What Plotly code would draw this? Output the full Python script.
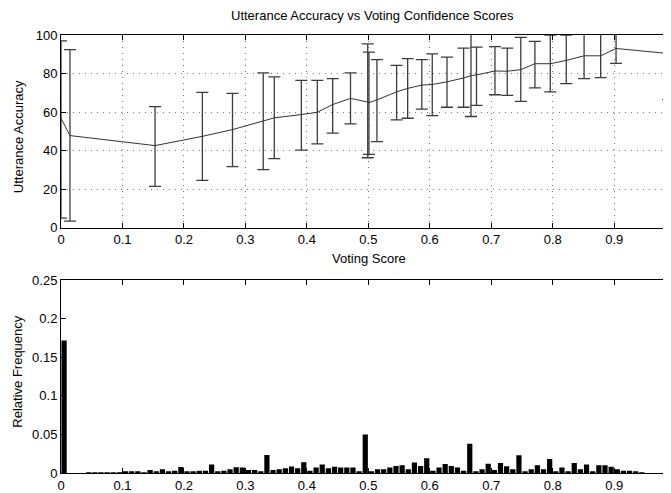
import numpy as np
import plotly.graph_objects as go

# Utterance accuracy per voting score (line + error bars)
acc_score = [0, 0.0146, 0.153, 0.230, 0.279, 0.329, 0.347, 0.391, 0.417, 0.442,
             0.471, 0.499, 0.501, 0.514, 0.546, 0.564, 0.587, 0.604, 0.628, 0.655,
             0.667, 0.676, 0.706, 0.726, 0.748, 0.771, 0.796, 0.822, 0.851, 0.878,
             0.903, 0.988]
acc_mean = [56.8, 47.8, 42.6, 47.4, 50.9, 55.1, 57.0, 58.7, 59.9, 63.9,
            67.1, 65.2, 64.9, 66.3, 70.5, 72.3, 74.0, 74.3, 75.7, 77.7,
            78.9, 79.3, 81.3, 81.2, 82.0, 85.1, 85.1, 86.8, 89.2, 89.2,
            93.0, 90.4]
acc_upper = [97.0, 92.4, 62.8, 70.2, 69.7, 80.3, 78.3, 76.5, 76.5, 77.4,
             80.3, 95.4, 91.1, 87.2, 84.2, 87.7, 87.2, 90.2, 88.5, 93.2,
             104, 93.7, 94.0, 93.2, 98.8, 96.7, 100.0, 100.0, 104, 104,
             104, 104]
acc_lower = [5.0, 3.4, 21.4, 24.5, 31.7, 30.1, 35.8, 40.2, 43.5, 49.1,
             53.9, 36.3, 38.0, 44.7, 56.0, 56.8, 61.5, 58.2, 62.5, 62.5,
             57.7, 63.5, 69.0, 68.7, 65.6, 72.6, 70.5, 74.8, 77.4, 77.9,
             85.3, 66.5]

# Relative frequency histogram, 100 bins of width 0.01
freq = [0.172, 0, 0, 0, 0.0005, 0.0005, 0.0005, 0.0005, 0.0005, 0.0005,
        0.0015, 0.002, 0.002, 0.0005, 0.004, 0.002, 0.005, 0.002, 0.003, 0.0078,
        0.002, 0.001, 0.003, 0.003, 0.011, 0.001, 0.003, 0.005, 0.0075, 0.007,
        0.004, 0.004, 0.002, 0.0235, 0.004, 0.005, 0.006, 0.0085, 0.006, 0.014,
        0.003, 0.007, 0.011, 0.006, 0.008, 0.007, 0.007, 0.007, 0.002, 0.050,
        0.001, 0.005, 0.005, 0.007, 0.009, 0.010, 0.005, 0.0137, 0.009, 0.019,
        0.003, 0.007, 0.0116, 0.009, 0.007, 0.003, 0.038, 0.002, 0.005, 0.012,
        0.004, 0.013, 0.0086, 0.005, 0.023, 0.001, 0.005, 0.010, 0.005, 0.018,
        0.002, 0.007, 0.002, 0.013, 0.005, 0.011, 0.001, 0.010, 0.010, 0.008,
        0.005, 0.003, 0.003, 0.001, 0.0005, 0, 0, 0, 0, 0.2375]
bin_centers = np.round(np.arange(len(freq)) * 0.01 + 0.005, 3)

x_ticks = [0, 0.1, 0.2, 0.3, 0.4, 0.5, 0.6, 0.7, 0.8, 0.9]
acc_ticks = [0, 20, 40, 60, 80, 100]
freq_ticks = [0, 0.05, 0.1, 0.15, 0.2, 0.25]

font = dict(family="Liberation Sans, Arial, sans-serif", size=13, color="black")

err_hi = [u - m for u, m in zip(acc_upper, acc_mean)]
err_lo = [m - l for m, l in zip(acc_mean, acc_lower)]

fig = go.Figure()

fig.add_trace(go.Scatter(
    x=acc_score, y=acc_mean, mode="lines",
    line=dict(color="#333333", width=1),
    error_y=dict(type="data", symmetric=False, array=err_hi, arrayminus=err_lo,
                 color="#3c3c3c", thickness=1.3, width=6),
    xaxis="x", yaxis="y", showlegend=False,
))

fig.add_trace(go.Bar(
    x=bin_centers, y=freq, width=0.0085,
    marker=dict(color="black", line=dict(width=0)),
    xaxis="x2", yaxis="y2", showlegend=False,
))

axis_common = dict(
    showline=True, linecolor="black", linewidth=1,
    ticks="inside", ticklen=5, tickcolor="black",
    tickfont=font, zeroline=False,
)

# the page body has an 8px margin, so the figure is 8px smaller each way
fig.update_layout(
    width=663, height=485,
    margin=dict(l=53, r=0, t=27, b=17),
    paper_bgcolor="white", plot_bgcolor="white",
    font=font,
    xaxis=dict(domain=[0, 1], range=[0, 0.9924], tickvals=x_ticks,
               mirror="ticks", showgrid=True, gridcolor="#7a7a7a",
               griddash="1px,5px", gridwidth=1, anchor="y", **axis_common),
    yaxis=dict(domain=[0.5601, 1], range=[0, 100], tickvals=acc_ticks,
               showgrid=True, gridcolor="#7a7a7a", griddash="1px,5px",
               gridwidth=1, anchor="x", **axis_common),
    xaxis2=dict(domain=[0, 1], range=[0, 0.9924], tickvals=x_ticks,
                mirror="ticks", showgrid=False, anchor="y2", **axis_common),
    yaxis2=dict(domain=[0, 0.44], range=[0, 0.25], tickvals=freq_ticks,
                showgrid=False, anchor="x2", **axis_common),
    annotations=[
        dict(text="Utterance Accuracy vs Voting Confidence Scores",
             xref="paper", yref="paper", x=0.51, y=1.045,
             showarrow=False, font=font, xanchor="center", yanchor="middle"),
        dict(text="Voting Score", xref="paper", yref="paper", x=0.505, y=0.49,
             showarrow=False, font=font, xanchor="center", yanchor="middle"),
        dict(text="Utterance Accuracy", xref="paper", yref="paper",
             x=-0.0705, y=0.769, textangle=-90, showarrow=False, font=font,
             xanchor="center", yanchor="middle"),
        dict(text="Relative Frequency", xref="paper", yref="paper",
             x=-0.0705, y=0.2313, textangle=-90, showarrow=False, font=font,
             xanchor="center", yanchor="middle"),
    ],
)

fig.write_html("out.html")
